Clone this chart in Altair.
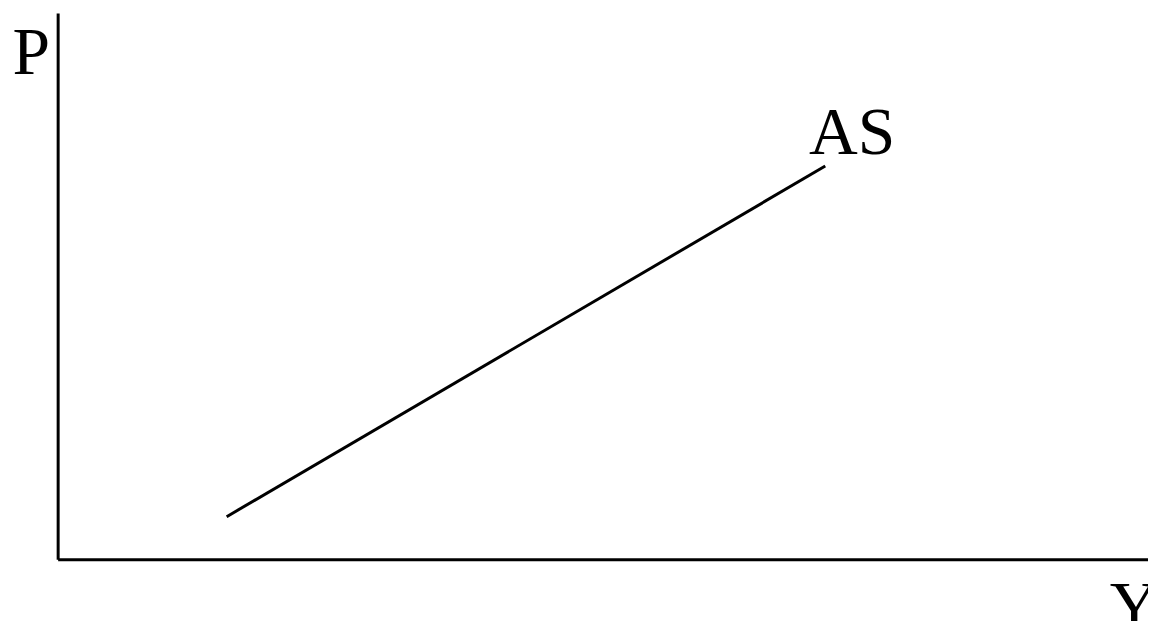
import altair as alt
import pandas as pd

# AS curve end points (data units)
as_x = [1.55, 7.04]
as_y = [0.78, 7.2]

label_text = ["AS"]
label_x = [6.89]
label_y = [7.42]

FONT = "'Times New Roman', 'Liberation Serif', Times, serif"

line_df = pd.DataFrame({"x": as_x, "y": as_y})
lab_df = pd.DataFrame({"x": label_x, "y": label_y, "t": label_text})

xs = alt.Scale(domain=[0, 10], nice=False, zero=False)
ys = alt.Scale(domain=[0, 10], nice=False, zero=False)

xaxis = alt.Axis(
    title="Y", labels=False, ticks=False, grid=False,
    domainColor="black", domainWidth=3,
    titleFont=FONT, titleFontSize=68, titleFontWeight="normal", titleColor="black",
    titleAnchor="start", titleAlign="left", titleBaseline="alphabetic",
    titleX=1059, titleY=69,
)
yaxis = alt.Axis(
    title="P", labels=False, ticks=False, grid=False,
    domainColor="black", domainWidth=3,
    titleFont=FONT, titleFontSize=68, titleFontWeight="normal", titleColor="black",
    titleAngle=0, titleAlign="left", titleBaseline="alphabetic",
    titleX=-46, titleY=61,
)

line = alt.Chart(line_df).mark_line(color="black", strokeWidth=3).encode(
    x=alt.X("x:Q", scale=xs, axis=xaxis),
    y=alt.Y("y:Q", scale=ys, axis=yaxis),
)

text = alt.Chart(lab_df).mark_text(
    font=FONT, fontSize=68, color="black", align="left", baseline="alphabetic"
).encode(
    x=alt.X("x:Q", scale=xs),
    y=alt.Y("y:Q", scale=ys),
    text="t:N",
)

chart = alt.layer(line, text).properties(
    width=1098, height=550,
    autosize=alt.AutoSizeParams(type="none"),
    padding={"left": 50, "top": 3, "right": 0, "bottom": 60},
    background="white",
).configure_view(stroke=None)

chart.save("out.html", embed_options={"renderer": "svg", "actions": False})
